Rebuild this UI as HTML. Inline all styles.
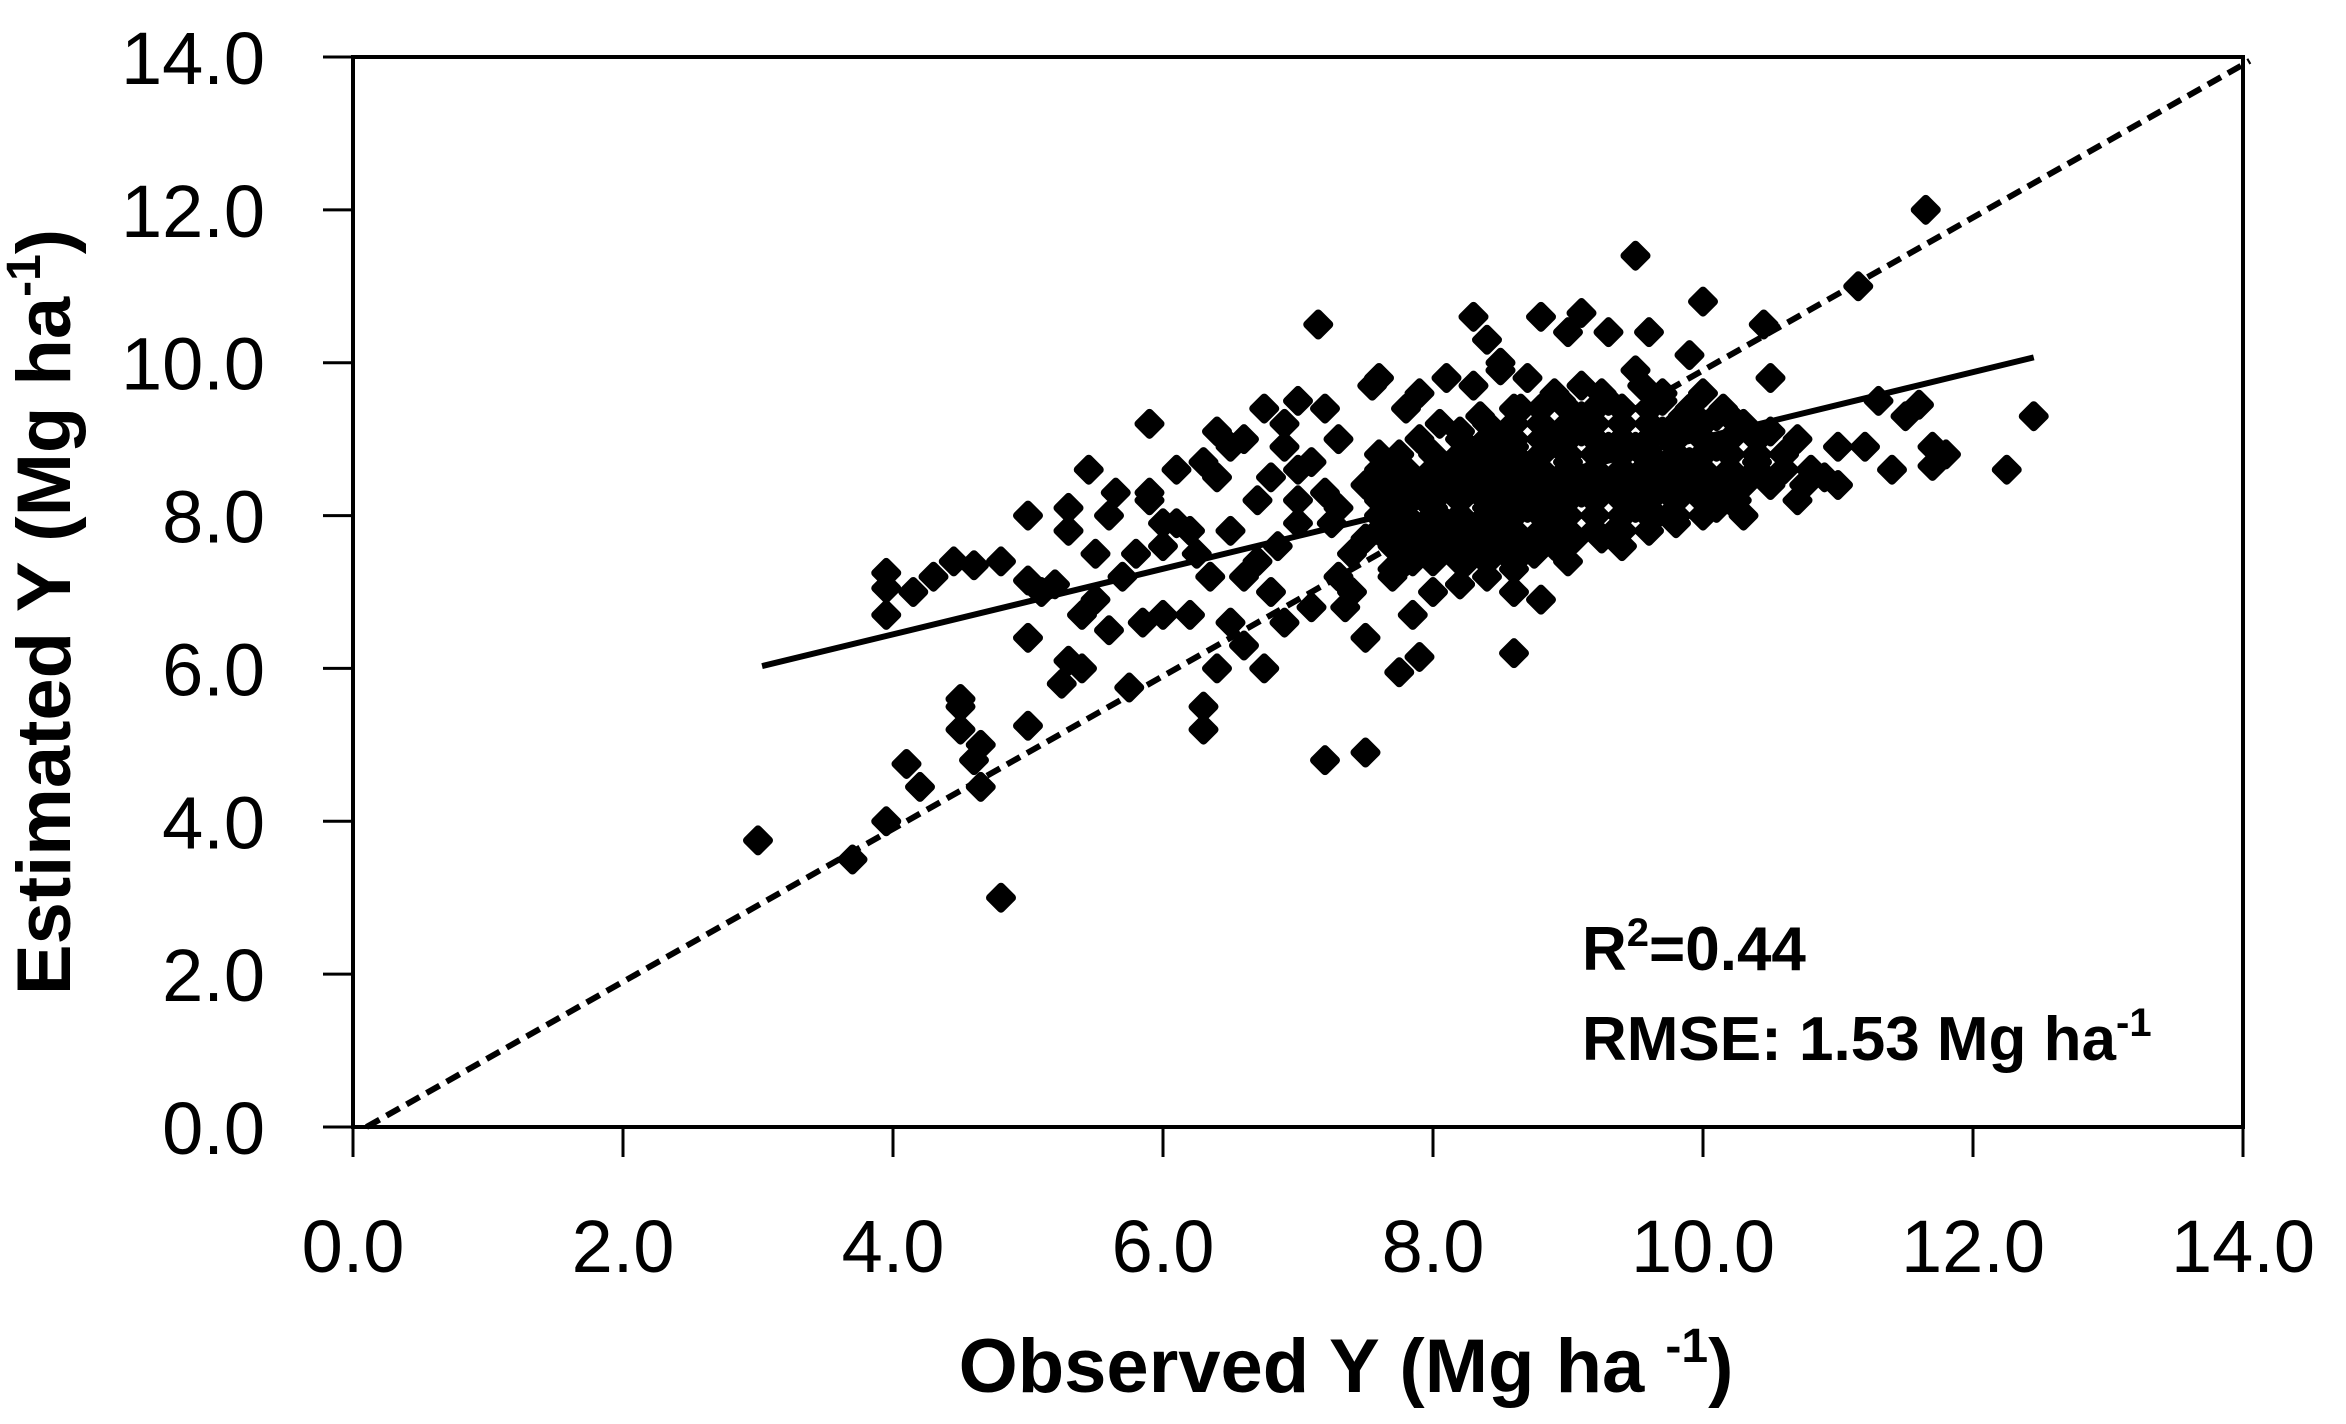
<!DOCTYPE html>
<html><head><meta charset="utf-8"><style>
html,body{margin:0;padding:0;background:#fff}
svg{display:block}
text{font-family:"Liberation Sans",sans-serif;fill:#000}
</style></head><body>
<svg id="chart" width="2346" height="1424" viewBox="0 0 2346 1424" xmlns="http://www.w3.org/2000/svg">
<g id="marks"></g>
<g id="axes"></g>
<text transform="translate(70,612) rotate(-90)" text-anchor="middle" font-size="76" font-weight="bold">Estimated Y (Mg ha<tspan font-size="48" dy="-30">-1</tspan><tspan dy="30">)</tspan></text>
<text x="1346" y="1392" text-anchor="middle" font-size="76" font-weight="bold">Observed Y (Mg ha <tspan font-size="48" dy="-30">-1</tspan><tspan dy="30">)</tspan></text>
<text x="1582" y="970" font-size="62" font-weight="bold">R<tspan font-size="40" dy="-24">2</tspan><tspan dy="24">=0.44</tspan></text>
<text x="1582" y="1060" font-size="62" font-weight="bold">RMSE: 1.53 Mg ha<tspan font-size="40" dy="-24">-1</tspan></text>
</svg>
<script>
const xTicks=[0,2,4,6,8,10,12,14];
const yTicks=[0,2,4,6,8,10,12,14];
const tickLabels=["0.0","2.0","4.0","6.0","8.0","10.0","12.0","14.0"];
const obsX=[3.0,3.7,3.95,4.8,3.95,3.95,3.95,4.15,4.3,4.45,4.6,4.8,4.1,4.2,4.5,4.5,4.5,4.6,4.65,4.65,5.0,5.0,5.0,5.0,5.1,5.2,5.25,5.3,5.3,5.3,5.4,5.4,5.45,5.5,5.5,5.6,5.6,5.65,5.7,5.75,5.8,5.85,5.9,5.9,6.0,6.0,6.1,6.1,6.2,6.25,6.3,6.3,6.35,6.4,6.4,6.4,6.5,6.5,6.5,6.6,6.6,6.7,6.7,6.75,6.75,6.8,6.8,6.9,6.9,7.0,7.0,7.0,7.1,7.15,7.2,7.2,7.2,7.3,7.3,7.35,7.4,7.5,7.5,7.5,7.55,7.6,7.6,7.7,7.75,7.75,7.8,7.85,7.9,7.9,
8.3,8.4,8.5,8.6,8.8,9.0,9.1,9.3,9.5,9.6,9.9,10.0,10.45,10.5,11.15,11.65,11.6,11.3,11.5,11.7,11.8,11.7,12.25,12.45,11.2,11.0,10.8,10.9,11.4,8.8,8.4,8.6,8.0,8.2,
7.7,7.8,7.9,8.0,8.1,8.2,8.3,8.4,8.5,8.6,8.7,8.8,8.9,9.0,9.1,9.2,9.3,9.4,9.5,9.6,9.7,9.8,9.9,10.0,10.1,10.2,
7.8,7.9,8.0,8.1,8.2,8.3,8.4,8.5,8.6,8.7,8.8,8.9,9.0,9.1,9.2,9.3,9.4,9.5,9.6,9.7,9.8,9.9,10.0,10.2,10.4,10.6,
7.6,7.75,7.9,8.05,8.2,8.35,8.5,8.65,8.8,8.95,9.1,9.25,9.4,9.55,9.7,9.85,10.0,10.15,10.3,10.5,10.7,
7.7,7.85,8.0,8.15,8.3,8.45,8.6,8.75,8.9,9.05,9.2,9.35,9.5,9.65,9.8,9.95,10.1,10.3,
7.9,8.1,8.3,8.5,8.7,8.9,9.1,9.3,9.5,9.7,9.9,10.1,8.2,8.6,9.0,9.4,9.8,10.3,10.7,11.0,
6.9,7.1,7.3,7.5,6.6,6.2,5.9,7.0,7.4,6.3,6.0,6.85,7.25,7.65,8.25,8.75,9.25,9.75,10.25,10.75,
7.8,8.0,8.2,8.4,8.6,
7.7,7.9,8.1,8.3,8.5,8.7,8.9,
7.6,7.8,8.0,8.2,8.4,8.6,8.8,9.0,9.2,9.4,9.6,
7.6,7.8,8.0,8.2,8.4,8.6,8.8,9.0,9.2,9.4,9.6,9.8,10.0,
7.6,7.8,8.0,8.2,8.4,8.6,8.8,9.0,9.2,9.4,9.6,9.8,10.0,10.2,
7.7,7.9,8.1,8.3,8.5,8.7,8.9,9.1,9.3,9.5,9.7,9.9,10.1,10.3,10.5,
7.8,8.0,8.2,8.4,8.6,8.8,9.0,9.2,9.4,9.6,9.8,10.0,10.2,10.4,10.6,
8.0,8.2,8.4,8.6,8.8,9.0,9.2,9.4,9.6,9.8,10.0,10.2,10.4,10.6,
8.2,8.4,8.6,8.8,9.0,9.2,9.4,9.6,9.8,10.0,10.2,10.4,
8.4,8.6,8.8,9.0,9.2,9.4,9.6,9.8,10.0,
8.6,8.8,9.0,9.2,9.4,9.6];
const estY=[3.75,3.5,4.0,3.0,7.05,7.25,6.7,7.0,7.2,7.4,7.35,7.4,4.75,4.45,5.6,5.5,5.2,4.8,5.0,4.45,5.25,6.4,8.0,7.15,7.0,7.1,5.8,6.1,7.8,8.1,6.0,6.7,8.6,6.9,7.5,6.5,8.0,8.3,7.2,5.75,7.5,6.6,9.2,8.2,7.6,6.7,8.6,7.9,6.7,7.5,5.5,5.2,7.2,8.5,6.0,9.1,6.6,7.8,8.9,9.0,6.3,8.2,7.4,6.0,9.4,8.5,7.0,9.2,6.6,8.6,7.9,9.5,6.8,10.5,9.4,8.3,4.8,7.2,9.0,6.8,7.5,8.4,4.9,6.4,9.7,9.8,8.8,7.2,5.95,8.0,9.4,6.7,6.15,8.3,
10.6,10.3,10.0,6.2,10.6,10.4,10.65,10.4,11.4,10.4,10.1,10.8,10.5,9.8,11.0,12.0,9.45,9.5,9.3,8.9,8.8,8.65,8.6,9.3,8.9,8.9,8.6,8.5,8.6,6.9,7.2,7.3,7.0,7.1,
8.0,8.2,8.4,8.1,8.6,8.3,8.8,8.5,8.7,8.9,8.6,8.8,9.0,8.7,9.1,8.8,8.9,9.2,8.9,9.0,9.1,8.8,9.2,9.0,8.9,9.3,
7.6,7.8,7.7,7.9,8.0,7.8,8.1,8.0,8.2,8.1,8.3,8.2,8.4,8.3,8.5,8.4,8.6,8.5,8.7,8.6,8.8,8.7,8.6,8.5,8.7,8.8,
8.6,8.8,9.0,9.2,9.1,9.3,9.0,9.4,9.2,9.5,9.3,9.6,9.4,9.7,9.5,9.3,9.6,9.4,9.2,9.1,9.0,
7.3,7.4,7.5,7.6,7.7,7.5,7.8,7.6,7.9,7.7,8.0,7.8,8.1,8.0,8.2,8.3,8.1,8.4,
9.6,9.8,9.7,9.9,9.8,9.6,9.7,9.5,9.9,9.6,9.4,9.3,7.1,7.0,7.4,7.6,7.9,8.0,8.2,8.4,
8.9,8.7,8.1,7.7,7.2,7.8,8.3,8.2,7.0,8.7,7.9,7.6,7.9,8.6,7.4,7.5,7.7,8.0,8.2,8.4,
7.4,7.4,7.4,7.4,7.4,
7.6,7.6,7.6,7.6,7.6,7.6,7.6,
7.8,7.8,7.8,7.8,7.8,7.8,7.8,7.8,7.8,7.8,7.8,
8.0,8.0,8.0,8.0,8.0,8.0,8.0,8.0,8.0,8.0,8.0,8.0,8.0,
8.2,8.2,8.2,8.2,8.2,8.2,8.2,8.2,8.2,8.2,8.2,8.2,8.2,8.2,
8.4,8.4,8.4,8.4,8.4,8.4,8.4,8.4,8.4,8.4,8.4,8.4,8.4,8.4,8.4,
8.6,8.6,8.6,8.6,8.6,8.6,8.6,8.6,8.6,8.6,8.6,8.6,8.6,8.6,8.6,
8.8,8.8,8.8,8.8,8.8,8.8,8.8,8.8,8.8,8.8,8.8,8.8,8.8,8.8,
9.0,9.0,9.0,9.0,9.0,9.0,9.0,9.0,9.0,9.0,9.0,9.0,
9.2,9.2,9.2,9.2,9.2,9.2,9.2,9.2,9.2,
9.4,9.4,9.4,9.4,9.4,9.4];
const fitX=[3.03,12.45];
const fitY=[6.03,10.07];
const oneX=[0.1,14.05];
const oneY=[0.0,13.95];

const L=353,R=2243,T=57,B=1127;
const sx=v=>L+(v-0)/(14-0)*(R-L);
const sy=v=>B-(v-0)/(14-0)*(B-T);
const NS="http://www.w3.org/2000/svg";
const marks=document.getElementById('marks');
const axes=document.getElementById('axes');
function mk(tag,attrs,parent){const e=document.createElementNS(NS,tag);for(const k in attrs)e.setAttribute(k,attrs[k]);parent.appendChild(e);return e;}

for(let i=0;i<obsX.length;i++){
  const cx=sx(obsX[i]),cy=sy(estY[i]),h=11;
  const p=mk('path',{d:`M${cx},${cy-h}L${cx+h},${cy}L${cx},${cy+h}L${cx-h},${cy}Z`,fill:'#000',stroke:'#000','stroke-width':8,'stroke-linejoin':'round'},marks);
  
  
}
const oneLine=mk('line',{x1:sx(oneX[0]),y1:sy(oneY[0]),x2:sx(oneX[1]),y2:sy(oneY[1]),stroke:'#000','stroke-width':6,'stroke-dasharray':'15 8'},marks);


const fit=mk('line',{x1:sx(fitX[0]),y1:sy(fitY[0]),x2:sx(fitX[1]),y2:sy(fitY[1]),stroke:'#000','stroke-width':6},marks);



const frame=mk('rect',{x:L,y:T,width:R-L,height:B-T,fill:'none',stroke:'#000','stroke-width':4},axes);


xTicks.forEach((v,i)=>{
  const t=mk('line',{x1:sx(v),x2:sx(v),y1:B,y2:B+30,stroke:'#000','stroke-width':3},axes);
  
  
  const lb=mk('text',{x:sx(v),y:1272,'text-anchor':'middle','font-size':74},axes);
  lb.textContent=tickLabels[i];
  
  
});
yTicks.forEach((v,i)=>{
  const t=mk('line',{x1:L-30,x2:L,y1:sy(v),y2:sy(v),stroke:'#000','stroke-width':3},axes);
  
  
  const lb=mk('text',{x:265,y:sy(v)+27,'text-anchor':'end','font-size':74},axes);
  lb.textContent=tickLabels[i];
  
  
});
</script>
</body></html>
